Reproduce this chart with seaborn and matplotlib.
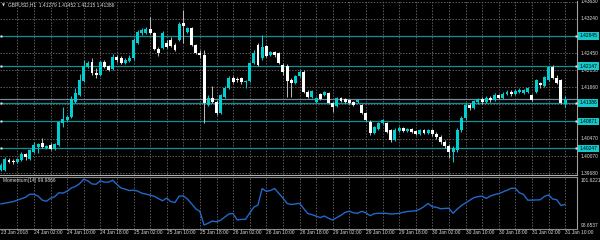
import matplotlib
matplotlib.use("Agg")
import matplotlib.pyplot as plt
import numpy as np
import pandas as pd
import seaborn as sns

# ---------------- data (GBPUSD H1, 23 Jan 18:00 .. 31 Jan 10:00) ----------------
opens = [1.3975,1.3975,1.3998,1.3996,1.3994,1.3998,1.4012,1.4001,1.4017,1.4028,
         1.4038,1.4026,1.4033,1.4024,1.4033,1.4084,1.4091,1.4098,1.4132,1.4149,
         1.4181,1.4213,1.4225,1.4199,1.4195,1.4225,1.4215,1.4209,1.4236,1.4234,
         1.4222,1.4227,1.4234,1.4269,1.4292,1.4292,1.4301,1.4292,1.4255,1.4257,
         1.4269,1.4276,1.4264,1.4276,1.4315,1.4294,1.4303,1.4264,1.4246,1.4241,
         1.4125,1.4142,1.4132,1.4107,1.4144,1.4165,1.4188,1.4186,1.4188,1.4179,
         1.4181,1.4222,1.4264,1.4234,1.4262,1.4241,1.4248,1.4246,1.4218,1.4215,
         1.4183,1.4176,1.4192,1.4202,1.4155,1.4144,1.4132,1.4151,1.4149,1.4153,
         1.4130,1.4123,1.4142,1.4139,1.4137,1.4132,1.4132,1.4125,1.4107,1.4086,
         1.4061,1.4070,1.4084,1.4084,1.4068,1.4045,1.4065,1.4072,1.4065,1.4070,
         1.4065,1.4058,1.4068,1.4061,1.4068,1.4058,1.4052,1.4040,1.4031,1.4017,
         1.4022,1.4068,1.4095,1.4125,1.4119,1.4132,1.4139,1.4132,1.4142,1.4137,
         1.4149,1.4142,1.4151,1.4155,1.4151,1.4155,1.4153,1.4155,1.4149,1.4155,
         1.4176,1.4169,1.4183,1.4213,1.4188,1.4183,1.41279]
highs = [1.3991,1.4005,1.4003,1.4001,1.4003,1.4017,1.4015,1.4024,1.4040,1.4038,
         1.4049,1.4033,1.4038,1.4038,1.4088,1.4121,1.4102,1.4146,1.4165,1.4197,
         1.4229,1.4227,1.4234,1.4211,1.4227,1.4229,1.4218,1.4243,1.4241,1.4239,
         1.4234,1.4241,1.4280,1.4299,1.4303,1.4306,1.4329,1.4294,1.4259,1.4296,
         1.4276,1.4283,1.4269,1.4317,1.4345,1.4306,1.4306,1.4266,1.4252,1.4252,
         1.4149,1.4169,1.4137,1.4151,1.4169,1.4192,1.4192,1.4190,1.4190,1.4183,
         1.4225,1.4252,1.4269,1.4287,1.4264,1.4250,1.4250,1.4248,1.4222,1.4220,
         1.4188,1.4195,1.4206,1.4206,1.4160,1.4160,1.4144,1.4153,1.4158,1.4155,
         1.4132,1.4144,1.4144,1.4142,1.4139,1.4135,1.4139,1.4128,1.4109,1.4091,
         1.4077,1.4086,1.4093,1.4086,1.4070,1.4072,1.4077,1.4075,1.4072,1.4072,
         1.4068,1.4070,1.4070,1.4070,1.4070,1.4063,1.4056,1.4045,1.4035,1.4031,
         1.4072,1.4100,1.4130,1.4130,1.4137,1.4142,1.4144,1.4146,1.4146,1.4153,
         1.4151,1.4155,1.4160,1.4160,1.4162,1.4165,1.4162,1.4167,1.4151,1.4186,
         1.4179,1.4192,1.4215,1.4218,1.4195,1.4186,1.41452]
lows = [1.3973,1.3973,1.3991,1.3989,1.3991,1.3996,1.3998,1.3998,1.4015,1.4015,
        1.4026,1.4024,1.4022,1.4022,1.4031,1.4075,1.4088,1.4095,1.4130,1.4146,
        1.4179,1.4211,1.4195,1.4188,1.4192,1.4211,1.4204,1.4206,1.4225,1.4220,
        1.4220,1.4225,1.4229,1.4266,1.4287,1.4289,1.4289,1.4252,1.4239,1.4255,
        1.4257,1.4259,1.4250,1.4273,1.4269,1.4292,1.4262,1.4243,1.4234,1.4084,
        1.4123,1.4130,1.4102,1.4105,1.4142,1.4162,1.4176,1.4179,1.4174,1.4165,
        1.4179,1.4220,1.4215,1.4229,1.4236,1.4239,1.4236,1.4220,1.4195,1.4144,
        1.4144,1.4174,1.4190,1.4153,1.4142,1.4142,1.4130,1.4137,1.4146,1.4128,
        1.4109,1.4121,1.4132,1.4130,1.4128,1.4123,1.4130,1.4105,1.4088,1.4056,
        1.4058,1.4068,1.4082,1.4061,1.4040,1.4042,1.4063,1.4063,1.4063,1.4061,
        1.4056,1.4056,1.4058,1.4058,1.4054,1.4047,1.4035,1.4026,1.4003,1.3994,
        1.4017,1.4063,1.4091,1.4114,1.4116,1.4128,1.4128,1.4130,1.4132,1.4135,
        1.4139,1.4139,1.4149,1.4146,1.4149,1.4153,1.4151,1.4153,1.4135,1.4153,
        1.4165,1.4167,1.4181,1.4186,1.4174,1.4128,1.41215]
closes = [1.3987,1.4001,1.3994,1.3994,1.4001,1.4012,1.4005,1.4022,1.4033,1.4035,
          1.4028,1.4031,1.4024,1.4035,1.4086,1.4093,1.4098,1.4139,1.4153,1.4183,
          1.4215,1.4222,1.4199,1.4195,1.4225,1.4213,1.4206,1.4236,1.4229,1.4222,
          1.4229,1.4234,1.4276,1.4294,1.4299,1.4301,1.4292,1.4255,1.4246,1.4292,
          1.4259,1.4262,1.4252,1.4313,1.4308,1.4303,1.4264,1.4246,1.4241,1.4130,
          1.4142,1.4132,1.4107,1.4149,1.4165,1.4188,1.4179,1.4183,1.4179,1.4181,
          1.4222,1.4246,1.4218,1.4259,1.4239,1.4248,1.4241,1.4222,1.4202,1.4181,
          1.4176,1.4192,1.4202,1.4155,1.4144,1.4158,1.4142,1.4139,1.4155,1.4130,
          1.4121,1.4142,1.4135,1.4132,1.4130,1.4125,1.4137,1.4107,1.4091,1.4061,
          1.4075,1.4084,1.4091,1.4063,1.4045,1.4068,1.4072,1.4065,1.4070,1.4063,
          1.4058,1.4068,1.4061,1.4068,1.4058,1.4052,1.4040,1.4031,1.4017,1.4026,
          1.4068,1.4095,1.4125,1.4119,1.4135,1.4139,1.4132,1.4142,1.4137,1.4149,
          1.4142,1.4151,1.4155,1.4151,1.4158,1.4160,1.4160,1.4165,1.4137,1.4183,
          1.4172,1.4190,1.4213,1.4188,1.4176,1.4130,1.41386]
momentum = [100.018,100.070,100.128,100.174,100.271,100.375,100.459,100.648,100.654,100.531,
            100.271,100.193,100.388,100.485,100.745,100.726,100.843,101.057,101.154,101.336,
            101.6221,101.518,101.317,101.300,101.525,101.434,101.440,101.564,101.291,101.057,
            100.985,100.888,100.921,100.856,100.719,100.661,100.589,100.518,100.368,100.226,
            100.401,100.174,100.115,100.524,100.550,100.336,100.031,99.706,99.531,98.6537,
            98.771,98.914,98.862,98.966,99.173,99.368,99.401,98.979,99.018,99.024,
            99.433,99.810,99.953,101.024,100.836,100.895,101.024,100.713,100.407,100.057,
            99.985,100.018,100.063,99.725,99.401,99.323,99.225,99.134,99.238,99.089,
            98.979,99.141,99.284,99.472,99.550,99.446,99.414,99.544,99.446,99.258,
            99.388,99.414,99.410,99.410,99.362,99.381,99.407,99.479,99.531,99.550,
            99.576,99.686,99.849,100.057,99.836,99.803,99.712,99.732,99.745,99.420,
            99.686,99.914,100.083,100.258,100.427,100.498,100.531,100.375,100.537,100.628,
            100.693,100.797,100.908,101.037,101.044,100.745,100.635,100.265,100.271,100.278,
            100.291,100.505,100.609,100.342,100.291,99.920,99.9866]

time_labels = ["23 Jan 2018", "24 Jan 02:00", "24 Jan 10:00", "24 Jan 18:00",
               "25 Jan 02:00", "25 Jan 10:00", "25 Jan 18:00", "26 Jan 02:00",
               "26 Jan 10:00", "26 Jan 18:00", "29 Jan 02:00", "29 Jan 10:00",
               "29 Jan 18:00", "30 Jan 02:00", "30 Jan 10:00", "30 Jan 18:00",
               "31 Jan 02:00", "31 Jan 10:00"]
price_ticks = [1.43630, 1.43240, 1.42840, 1.42450, 1.42050, 1.41660,
               1.41270, 1.40870, 1.40470, 1.40070, 1.39680]
level_prices = [1.42845, 1.42147, 1.41305, 1.40871, 1.40247]
level_labels = ["1.42845", "1.42147", "1.41386", "1.40871", "1.40247"]
bid_price = 1.41386
mom_max, mom_min = 101.6221, 98.6537

# ---------------- style ----------------
sns.set_theme(style="dark", rc={"axes.facecolor": "black", "figure.facecolor": "black"})
plt.rcParams['font.family'] = ['Liberation Sans', 'DejaVu Sans']

UP = "#00ced1"
DN = "#ffffff"
WICK_DN = "#b8b8b8"
TEAL = "#0e9194"
BOX = "#12c9cc"
GRID = "#5c5c5c"
TXT = "#dcdcdc"
FS = 3.5

n = len(closes)
df = pd.DataFrame({"bar": np.arange(n), "open": opens, "high": highs,
                   "low": lows, "close": closes, "momentum": momentum})

fig = plt.figure(figsize=(6, 2.4), dpi=100)
fig.patch.set_facecolor("black")
ax = fig.add_axes([0, 65 / 240, 577 / 600, 174 / 240])
axm = fig.add_axes([0, 11 / 240, 577 / 600, 52 / 240])

xlim = (-0.7 / 4.15, (577 - 0.7) / 4.15)
for a in (ax, axm):
    a.set_facecolor("black")
    a.set_xlim(*xlim)
    a.set_xticks([])
    a.set_yticks([])
    a.grid(False)
    for s in a.spines.values():
        s.set_visible(False)
    a.spines["right"].set_visible(True)
    a.spines["right"].set_color("#a0a0a0")
    a.spines["right"].set_linewidth(0.8)

ax.spines["bottom"].set_visible(True)
ax.spines["bottom"].set_color("#b0b0b0")
ax.spines["bottom"].set_linewidth(0.8)
axm.spines["top"].set_visible(True)
axm.spines["top"].set_color("#8a8a8a")
axm.spines["top"].set_linewidth(0.8)
axm.spines["bottom"].set_visible(True)
axm.spines["bottom"].set_color("#8a8a8a")
axm.spines["bottom"].set_linewidth(0.8)

ax.set_ylim(1.39634, 1.43653)
axm.set_ylim(98.394, 101.771)

# grid
for v in price_ticks:
    ax.axhline(v, color=GRID, lw=0.7, ls=(0, (1.5, 1.5)), zorder=1)
for i in range(4, n + 2, 4):
    for a in (ax, axm):
        a.axvline(i, color=GRID, lw=0.7, ls=(0, (1.5, 1.5)), zorder=1)

# level lines and bid line
for v in level_prices:
    ax.axhline(v, color=TEAL, lw=0.9, zorder=2)
ax.axhline(bid_price, color="#778899", lw=0.9, zorder=2)
ax.plot(np.full(len(level_prices), xlim[0] + 0.25), level_prices, "s", ms=1.8,
        mfc="#e8e8e8", mec="none", clip_on=False, zorder=6)
ax.plot(np.full(len(level_prices), xlim[1] - 0.3), level_prices, "s", ms=1.8,
        mfc="#e8e8e8", mec="none", clip_on=False, zorder=6)

# candles
up = df["close"] >= df["open"]
body_lo = np.minimum(df["open"], df["close"])
body_h = np.maximum((df["close"] - df["open"]).abs(), 0.00007)
ax.vlines(df["bar"], df["low"], df["high"], colors=np.where(up, UP, WICK_DN),
          lw=0.75, zorder=3)
ax.bar(df["bar"], body_h, bottom=body_lo, width=0.7,
       color=np.where(up, UP, DN), linewidth=0, zorder=4)

# momentum line
sns.lineplot(data=df, x="bar", y="momentum", ax=axm, color="#2268c8", lw=1.0,
             legend=False, zorder=3)
axm.set_xlabel("")
axm.set_ylabel("")
axm.set_xlim(*xlim)
axm.set_ylim(98.394, 101.771)

# right price scale
ytr = ax.get_yaxis_transform()
for v in price_ticks:
    ax.text(1.006, v, f"{v:.5f}", transform=ytr, ha="left", va="center",
            fontsize=FS, color=TXT, clip_on=False, zorder=7)
for v, lab in zip(level_prices, level_labels):
    ax.text(1.004, v, lab, transform=ytr, ha="left", va="center", fontsize=FS,
            color="black", clip_on=False, zorder=8,
            bbox=dict(boxstyle="square,pad=0.28", fc=BOX, ec="none"))

axm.text(1.006, 0.93, f"{mom_max:.4f}", transform=axm.transAxes, ha="left",
         va="center", fontsize=FS, color=TXT, clip_on=False)
axm.text(1.006, 0.06, f"{mom_min:.4f}", transform=axm.transAxes, ha="left",
         va="center", fontsize=FS, color=TXT, clip_on=False)

# header texts
ax.text(0.004, 0.977, "\u25BC", transform=ax.transAxes, ha="left", va="center",
        fontsize=2.8, color=TXT, family=["DejaVu Sans"])
header = "GBPUSD,H1  " + " ".join(f"{v:.5f}" for v in (opens[-1], highs[-1], lows[-1], closes[-1]))
ax.text(0.014, 0.977, header, transform=ax.transAxes, ha="left", va="center",
        fontsize=FS, color=TXT)
axm.text(0.005, 0.925, f"Momentum(14) {momentum[-1]:.4f}", transform=axm.transAxes,
         ha="left", va="center", fontsize=FS, color=TXT)

# time axis
xtr = axm.get_xaxis_transform()
for k, lab in enumerate(time_labels):
    axm.text(k * 8, -0.025, lab, transform=xtr, ha="left", va="top",
             fontsize=FS, color=TXT, clip_on=False)

fig.savefig("out.png", dpi=100, facecolor="black")
